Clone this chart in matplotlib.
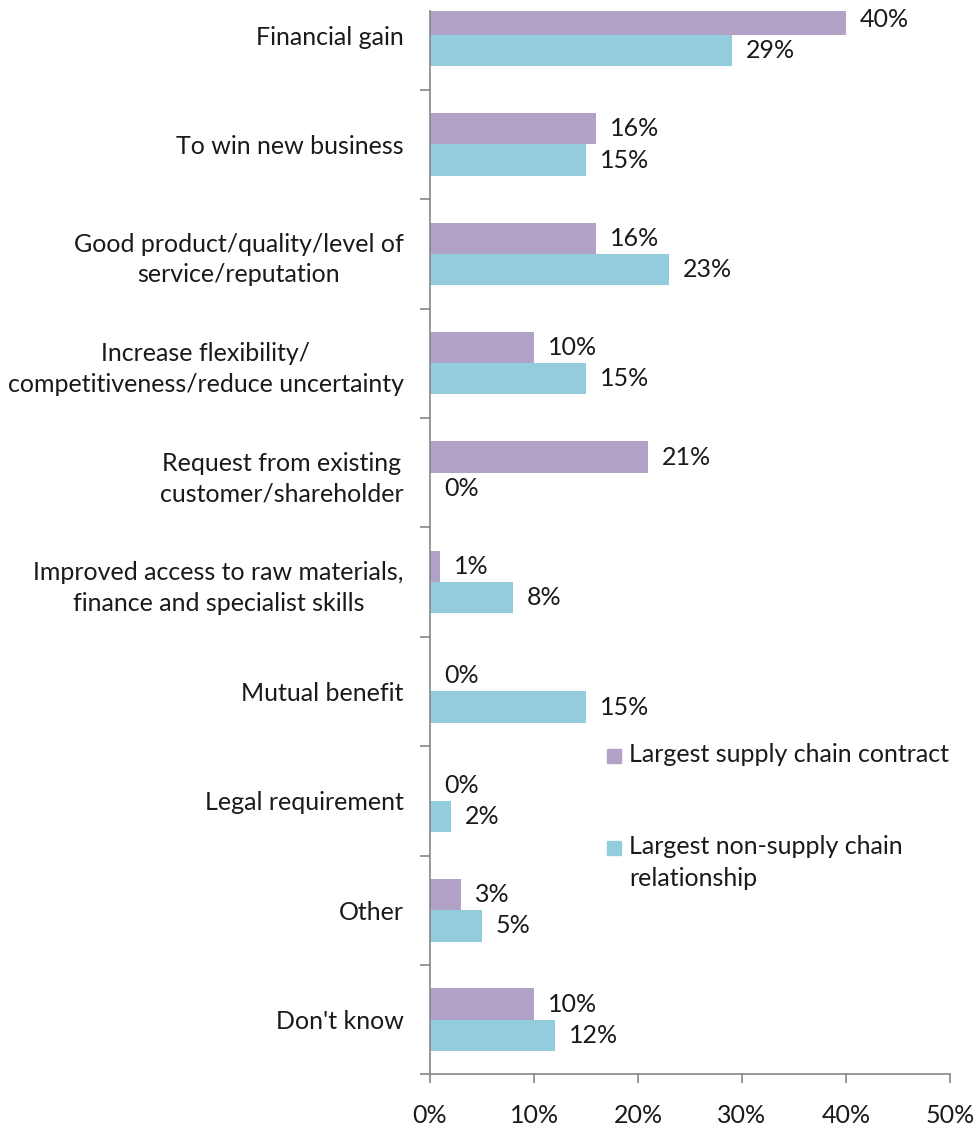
import numpy as np
import matplotlib.pyplot as plt
from matplotlib.patches import Rectangle
from matplotlib.ticker import PercentFormatter


# Reasons for entering the relationship (share of respondents, %)
categories = [
    'Financial gain',
    'To win new business',
    'Good product/quality/level of\nservice/reputation',
    'Increase flexibility/\ncompetitiveness/reduce uncertainty',
    'Request from existing\ncustomer/shareholder',
    'Improved access to raw materials,\nfinance and specialist skills',
    'Mutual benefit',
    'Legal requirement',
    'Other',
    "Don't know",
]
supply_chain = [40, 16, 16, 10, 21, 1, 0, 0, 3, 10]
non_supply_chain = [29, 15, 23, 15, 0, 8, 15, 2, 5, 12]

series_names = ['Largest supply chain contract',
                'Largest non-supply chain\nrelationship']
colors = ['#B3A2C7', '#93CDDD']
axis_col = '#868686'
txt_col = '#1a1a1a'

plt.rcParams['font.family'] = ['Lato', 'DejaVu Sans']
fs = 18

W, H = 978, 1129
fig = plt.figure(figsize=(W / 100, H / 100), dpi=100)
ax = fig.add_axes([0.4397, 0.0484, 0.5317, 0.9419])

y = np.arange(len(categories))
h = 1 / 3.5   # gap width 150 %
b1 = ax.barh(y - h / 2, supply_chain, height=h, color=colors[0])
b2 = ax.barh(y + h / 2, non_supply_chain, height=h, color=colors[1])

# value labels next to each bar
for bars, vals in ((b1, supply_chain), (b2, non_supply_chain)):
    for bar, v in zip(bars, vals):
        ax.annotate(f'{v}%', (v, bar.get_y() + bar.get_height() / 2),
                    xytext=(10, 0), textcoords='offset points',
                    va='center', ha='left', fontsize=fs, color=txt_col)

ax.set_xlim(0, 50)
ax.set_ylim(len(categories) - 0.5, -0.22)
ax.xaxis.set_major_formatter(PercentFormatter(decimals=0))
ax.set_xticks(np.arange(0, 51, 10))

ax.set_yticks(y)
ax.set_yticklabels(categories, multialignment='center', linespacing=1.4)
ax.set_yticks(np.arange(0.5, len(categories), 1), minor=True)
ax.tick_params(axis='y', which='major', length=0, pad=19, labelsize=fs,
               labelcolor=txt_col)
ax.tick_params(axis='y', which='minor', length=7.2, color=axis_col, width=1.2)
ax.tick_params(axis='x', length=6.2, color=axis_col, width=1.2, pad=15,
               labelsize=fs, labelcolor=txt_col)

for s in ('top', 'right'):
    ax.spines[s].set_visible(False)
for s in ('left', 'bottom'):
    ax.spines[s].set_color(axis_col)
    ax.spines[s].set_linewidth(1.2)

# legend: square key aligned with the first line of each label
legend_y = [756, 848]
for name, c, ly in zip(series_names, colors, legend_y):
    fig.patches.append(Rectangle((607 / W, 1 - (ly + 7) / H), 14 / W, 14 / H,
                                 transform=fig.transFigure, color=c))
    fig.text(629 / W, 1 - (ly - 13) / H, name, fontsize=fs, color=txt_col,
             ha='left', va='top', linespacing=1.45)

fig.savefig('out.png', dpi=100)
